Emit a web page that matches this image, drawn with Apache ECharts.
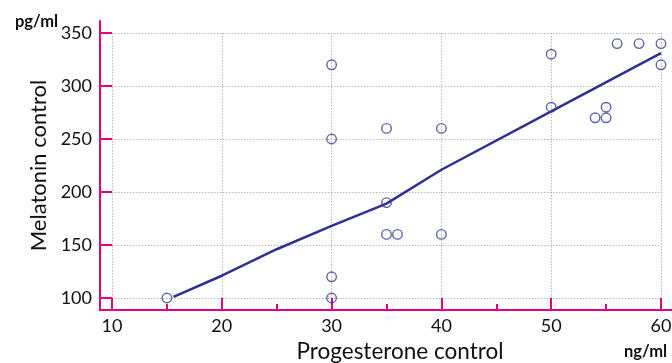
<!DOCTYPE html>
<html>
<head>
<meta charset="utf-8">
<script src="https://cdn.jsdelivr.net/npm/echarts@6/dist/echarts.min.js"></script>
<style>html,body{margin:0;padding:0;background:#fff}#c{width:672px;height:363px}</style>
</head>
<body>
<div id="c"></div>
<script>
// Data
const progesterone = [15, 30, 30, 30, 30, 35, 35, 35, 36, 40, 40, 50, 50, 54, 55, 55, 56, 58, 60, 60];
const melatonin   = [100, 320, 250, 120, 100, 260, 190, 160, 160, 260, 160, 330, 280, 270, 270, 280, 340, 340, 340, 320];
const fitX = [15.6, 20, 25, 30, 35, 40, 50, 60];
const fitY = [101, 121, 146, 168, 189, 221, 276, 331];
const xTicks = [10, 20, 30, 40, 50, 60];
const xMinorTicks = [15, 25, 35, 45, 55];
const yTicks = [100, 150, 200, 250, 300, 350];

const PINK = '#e6007e';
const NAVY = '#2e3192';
const FONT = 'Lato';

// layout (pixels)
const inner = {left: 112, right: 661, top: 33, bottom: 298};
const outer = {left: 100, right: 672, top: 21, bottom: 310};
const kx = (inner.right - inner.left) / (xTicks[xTicks.length-1] - xTicks[0]);
const ky = (inner.bottom - inner.top) / (yTicks[yTicks.length-1] - yTicks[0]);
const oxMin = xTicks[0] - (inner.left - outer.left) / kx;
const oxMax = xTicks[xTicks.length-1] + (outer.right - inner.right) / kx;
const oyMin = yTicks[0] - (outer.bottom - inner.bottom) / ky;
const oyMax = yTicks[yTicks.length-1] + (inner.top - outer.top) / ky;

const chart = echarts.init(document.getElementById('c'));
chart.setOption({
  animation: false,
  backgroundColor: '#fff',
  textStyle: {fontFamily: FONT},
  title: [
    {text: 'pg/ml', left: 10, top: 8, textStyle: {fontFamily: FONT, fontSize: 16.5, fontWeight: 'bold', color: '#111'}},
    {text: 'ng/ml', left: 619, top: 338, textStyle: {fontFamily: FONT, fontSize: 16.5, fontWeight: 'bold', color: '#111'}}
  ],
  grid: [
    {left: inner.left, width: inner.right - inner.left, top: inner.top, height: inner.bottom - inner.top, containLabel: false, outerBoundsMode: 'none'},
    {left: outer.left, width: outer.right - outer.left, top: outer.top, height: outer.bottom - outer.top, containLabel: false, outerBoundsMode: 'none'}
  ],
  xAxis: [
    {type: 'value', gridIndex: 0, min: xTicks[0], max: xTicks[xTicks.length-1], interval: 10,
     axisLine: {show: false}, axisTick: {show: false}, axisLabel: {show: false},
     splitLine: {show: true, lineStyle: {color: '#b8b8b8', type: [1.5, 1.5], width: 1}}},
    {type: 'value', gridIndex: 1, min: oxMin, max: oxMax, position: 'bottom',
     axisLine: {show: true, onZero: false, lineStyle: {color: PINK, width: 2}},
     axisTick: {show: true, inside: true, length: 12, customValues: xTicks, lineStyle: {color: PINK, width: 2}},
     axisLabel: {show: true, customValues: xTicks, fontSize: 18, color: '#111', margin: 7, fontFamily: FONT},
     splitLine: {show: false},
     name: 'Progesterone control', nameLocation: 'middle', nameGap: 30,
     nameTextStyle: {fontSize: 22.5, color: '#111', fontFamily: FONT, padding: [0, 0, 0, 28]}},
    {type: 'value', gridIndex: 1, min: oxMin, max: oxMax, position: 'bottom',
     axisLine: {show: false, onZero: false},
     axisTick: {show: true, inside: true, length: 6, customValues: xMinorTicks, lineStyle: {color: PINK, width: 2}},
     axisLabel: {show: false}, splitLine: {show: false}}
  ],
  yAxis: [
    {type: 'value', gridIndex: 0, min: yTicks[0], max: yTicks[yTicks.length-1], interval: 50,
     axisLine: {show: false}, axisTick: {show: false}, axisLabel: {show: false},
     splitLine: {show: true, lineStyle: {color: '#b8b8b8', type: [1.5, 1.5], width: 1}}},
    {type: 'value', gridIndex: 1, min: oyMin, max: oyMax, position: 'left',
     axisLine: {show: true, onZero: false, lineStyle: {color: PINK, width: 2}},
     axisTick: {show: true, inside: true, length: 12, customValues: yTicks, lineStyle: {color: PINK, width: 2}},
     axisLabel: {show: true, customValues: yTicks, fontSize: 18, color: '#111', margin: 8, fontFamily: FONT},
     splitLine: {show: false},
     name: 'Melatonin control', nameLocation: 'middle', nameGap: 41,
     nameTextStyle: {fontSize: 22, color: '#111', fontFamily: FONT}}
  ],
  series: [
    {type: 'line', xAxisIndex: 0, yAxisIndex: 0,
     data: fitX.map((x, i) => [x, fitY[i]]),
     showSymbol: false, symbol: 'none', clip: false,
     lineStyle: {color: NAVY, width: 2.5}, z: 3},
    {type: 'scatter', xAxisIndex: 0, yAxisIndex: 0,
     data: progesterone.map((x, i) => [x, melatonin[i]]),
     symbol: 'circle', symbolSize: 9.5, clip: false,
     itemStyle: {color: 'rgba(255,255,255,0)', borderColor: '#373b9e', borderWidth: 1.4}, z: 4}
  ]
});
</script>
</body>
</html>
